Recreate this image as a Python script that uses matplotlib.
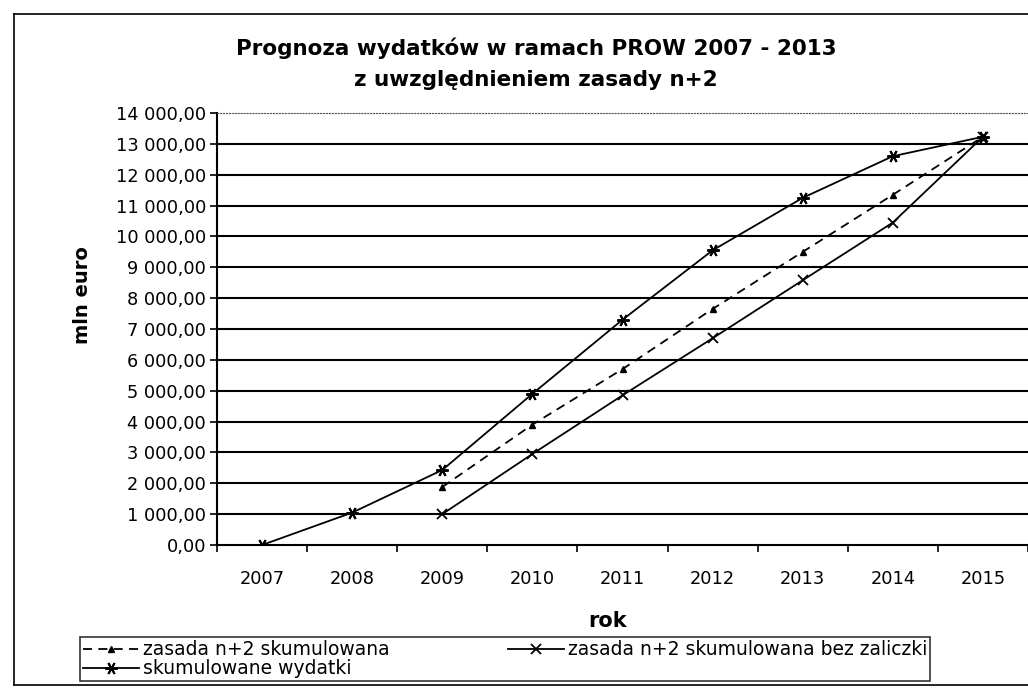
"""
Prognoza wydatkow PROW 2007-2013 z uwzglednieniem zasady n+2 -
redrawn from a scanned Excel line chart.
"""
import matplotlib
matplotlib.use("Agg")
import matplotlib.pyplot as plt
import numpy as np

years = ["2007", "2008", "2009", "2010", "2011", "2012", "2013", "2014", "2015"]
n2_cum = [np.nan, np.nan, 1880, 3900, 5700, 7650, 9500, 11350, 13230]
n2_cum_no_advance = [np.nan, np.nan, 1000, 2950, 4850, 6700, 8580, 10450, 13230]
spending_cum = [0, 1050, 2430, 4900, 7300, 9550, 11250, 12600, 13230]
y_ticks = list(range(0, 14001, 1000))

plt.rcParams["font.family"] = ["DejaVu Sans"]

W, H = 1028, 688


def fx(px):
    return px / W


def fy(py):
    return 1 - py / H


def fmt_pl(v, pos=None):
    s = f"{v:,.2f}"
    return s.replace(",", " ").replace(".", ",")


fig = plt.figure(figsize=(W / 100, H / 100), dpi=100)
ax = fig.add_axes([fx(217), fy(545), 1 - fx(217), (545 - 113) / H])

x = np.arange(len(years))
asterisk = (6, 2, 90)
l1, = ax.plot(x, n2_cum, color="black", lw=1.3, ls=(0, (5, 3.5)),
              marker="^", ms=5, mfc="black", mec="black")
l2, = ax.plot(x, n2_cum_no_advance, color="black", lw=1.3,
              marker="x", ms=7, mew=1.3)
l3, = ax.plot(x, spending_cum, color="black", lw=1.3,
              marker=asterisk, ms=9, mew=1.4, mec="black")

ax.set_xlim(-0.5, len(years) - 0.5)
ax.set_ylim(0, 14000)
ax.set_yticks(y_ticks)
ax.yaxis.set_major_formatter(matplotlib.ticker.FuncFormatter(fmt_pl))
ax.tick_params(axis="y", labelsize=12.8, length=5, width=1.2, direction="out", pad=3)

ax.set_xticks(np.arange(-0.5, len(years)))
ax.set_xticklabels([])
ax.set_xticks(x, minor=True)
ax.set_xticklabels(years, minor=True)
ax.tick_params(axis="x", which="major", length=5, width=1.2, direction="out")
ax.tick_params(axis="x", which="minor", length=0, labelsize=12.8, pad=18)

for v in y_ticks[1:-1]:
    ax.axhline(v, color="black", lw=1.5, zorder=0)
ax.spines["top"].set_linestyle(":")
ax.spines["top"].set_color("#555555")
ax.spines["top"].set_linewidth(0.8)
ax.spines["right"].set_visible(False)
ax.spines["left"].set_linewidth(1.5)
ax.spines["bottom"].set_linewidth(1.5)

fig.text(fx(536), fy(48), "Prognoza wydatków w ramach PROW 2007 - 2013",
         ha="center", va="center", fontsize=15.5, fontweight="bold")
fig.text(fx(536), fy(80), "z uwzględnieniem zasady n+2",
         ha="center", va="center", fontsize=15.5, fontweight="bold")
fig.text(fx(83), fy(295), "mln euro", rotation=90,
         ha="center", va="center", fontsize=14, fontweight="bold")
fig.text(fx(608), fy(621), "rok",
         ha="center", va="center", fontsize=15, fontweight="bold")

# chart border (left, top, bottom visible; right is cut off in the scan)
border = dict(transform=fig.transFigure, color="black", lw=1.2)
fig.add_artist(plt.Line2D([fx(14), fx(14)], [fy(14), fy(685)], **border))
fig.add_artist(plt.Line2D([fx(14), 1.0], [fy(14), fy(14)], **border))
fig.add_artist(plt.Line2D([fx(14), 1.0], [fy(685), fy(685)], **border))

leg = fig.legend([l1, l3, l2],
                 ["zasada n+2 skumulowana", "skumulowane wydatki",
                  "zasada n+2 skumulowana bez zaliczki"],
                 ncol=2, loc="lower left", mode="expand",
                 bbox_to_anchor=(fx(80), fy(681), fx(850), 48 / H),
                 fontsize=13.5, frameon=True, fancybox=False, borderpad=0.15,
                 labelspacing=0.0, handlelength=3.0, handletextpad=0.2,
                 borderaxespad=0, columnspacing=1.0)
leg.get_frame().set_edgecolor("black")
leg.get_frame().set_linewidth(1.2)

fig.savefig("out.png", dpi=100)
